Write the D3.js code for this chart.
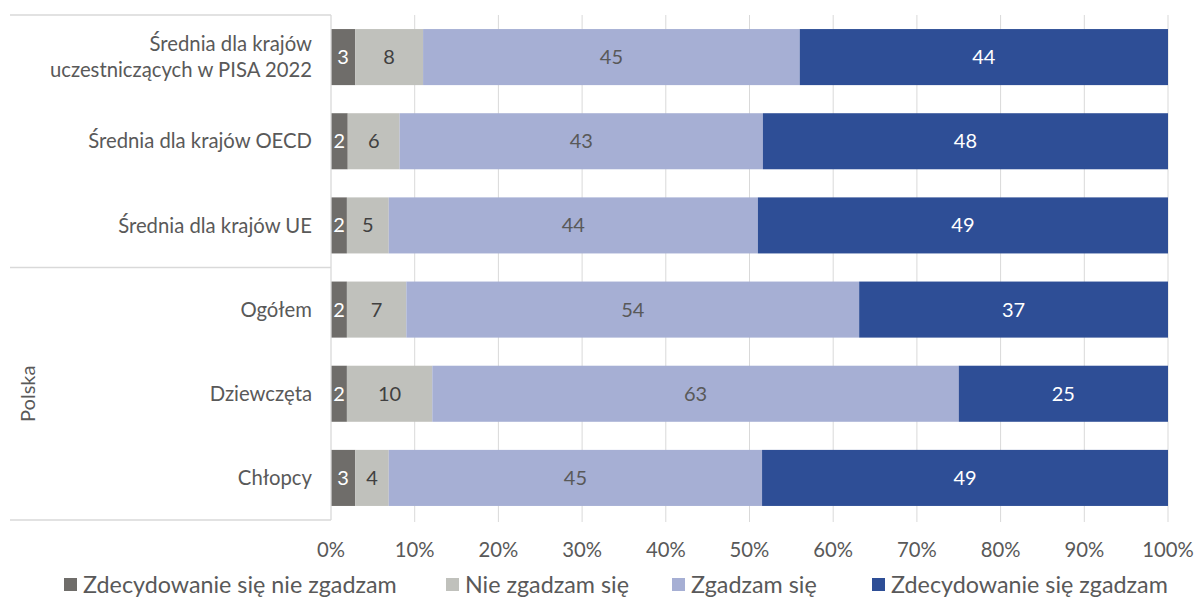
<!DOCTYPE html>
<html>
<head>
<meta charset="utf-8">
<script src="https://cdn.jsdelivr.net/npm/d3@7"></script>
<style>
  html, body { margin: 0; padding: 0; background: #fff; }
  svg text { font-family: "Lato", "Open Sans", sans-serif; }
</style>
</head>
<body>
<svg id="chart" width="1195" height="599"></svg>
<script>
const categories = [
  ["Średnia dla krajów", "uczestniczących w PISA 2022"],
  ["Średnia dla krajów OECD"],
  ["Średnia dla krajów UE"],
  ["Ogółem"],
  ["Dziewczęta"],
  ["Chłopcy"]
];
const seriesNames = ["Zdecydowanie się nie zgadzam", "Nie zgadzam się", "Zgadzam się", "Zdecydowanie się zgadzam"];
const stronglyDisagree = [2.9, 2.0, 1.9, 1.9, 1.9, 2.9];
const disagree = [8.1, 6.2, 5.0, 7.1, 10.2, 4.0];
const agree = [45.0, 43.4, 44.1, 54.1, 62.9, 44.6];
const stronglyAgree = [44.0, 48.4, 49.0, 36.9, 25.0, 48.6];
const groupLabel = "Polska";
const xTicks = [0, 10, 20, 30, 40, 50, 60, 70, 80, 90, 100];

(function () {
const colors = ["#6f6d6a", "#c0c1bc", "#a6afd4", "#2e4e96"];
const labelColors = ["#ffffff", "#404040", "#595959", "#ffffff"];

const svg = d3.select("#chart");
const pLeft = 331, pRight = 1168, pTop = 15, pBottom = 520;

const x = d3.scaleLinear().domain([0, 100]).range([pLeft, pRight]);
const y = d3.scaleBand().domain(d3.range(categories.length)).range([pTop, pBottom])
  .paddingInner(0.334).paddingOuter(0.167);

// gridlines
svg.append("g").selectAll("line").data(xTicks.slice(1)).join("line")
  .attr("x1", d => x(d)).attr("x2", d => x(d))
  .attr("y1", pTop).attr("y2", pBottom + 2)
  .attr("stroke", "#d9d9d9").attr("stroke-width", 1);

// stacked data
const table = categories.map((c, i) => ({
  i, v: [stronglyDisagree[i], disagree[i], agree[i], stronglyAgree[i]]
}));
const stack = d3.stack().keys([0, 1, 2, 3]).value((d, k) => d.v[k]);
const stacked = stack(table);

const g = svg.append("g");
stacked.forEach((layer, k) => {
  const lg = g.append("g");
  lg.selectAll("rect").data(layer).join("rect")
    .attr("x", d => x(d[0]))
    .attr("width", d => Math.min(x(d[1]), pRight) - x(d[0]))
    .attr("y", d => y(d.data.i))
    .attr("height", y.bandwidth())
    .attr("fill", colors[k]);
  lg.selectAll("text").data(layer).join("text")
    .attr("x", d => (x(d[0]) + Math.min(x(d[1]), pRight)) / 2)
    .attr("y", d => y(d.data.i) + y.bandwidth() / 2)
    .attr("dy", "0.35em")
    .attr("text-anchor", "middle")
    .attr("font-size", 20)
    .attr("fill", labelColors[k])
    .text(d => Math.round(d.data.v[k]));
});

// left axis line and group lines
const ax = svg.append("g").attr("stroke", "#d9d9d9").attr("stroke-width", 1.3);
ax.append("line").attr("x1", pLeft).attr("x2", pLeft).attr("y1", pTop).attr("y2", pBottom);
const sep = y.step();
[pTop, pTop + 3 * sep, pBottom].forEach(yy => {
  ax.append("line").attr("x1", 10).attr("x2", pLeft).attr("y1", yy).attr("y2", yy);
});

// category labels
categories.forEach((lines, i) => {
  const cy = y(i) + y.bandwidth() / 2;
  const t = svg.append("text")
    .attr("text-anchor", "end")
    .attr("font-size", 20.3)
    .attr("fill", "#595959");
  const lh = 26;
  lines.forEach((ln, j) => {
    t.append("tspan").attr("x", 312)
      .attr("y", cy + (j - (lines.length - 1) / 2) * lh)
      .attr("dy", "0.35em").text(ln);
  });
});

// group label
svg.append("text")
  .attr("transform", `translate(28,${pTop + 4.5 * sep}) rotate(-90)`)
  .attr("text-anchor", "middle").attr("dy", "0.35em")
  .attr("font-size", 20).attr("fill", "#595959").text(groupLabel);

// x axis tick labels
svg.append("g").selectAll("text").data(xTicks).join("text")
  .attr("x", d => x(d)).attr("y", 550).attr("dy", "0.35em")
  .attr("text-anchor", "middle").attr("font-size", 20.3)
  .attr("fill", "#595959").text(d => d + "%");

// legend
const legX = [64, 446, 672, 872];
const leg = svg.append("g");
seriesNames.forEach((name, k) => {
  const lx = legX[k];
  leg.append("rect").attr("x", lx).attr("y", 578).attr("width", 13).attr("height", 13).attr("fill", colors[k]);
  leg.append("text").attr("x", lx + 19).attr("y", 585).attr("dy", "0.35em")
    .attr("font-size", 23.3).attr("fill", "#595959").text(name);
});
})();
</script>
</body>
</html>
